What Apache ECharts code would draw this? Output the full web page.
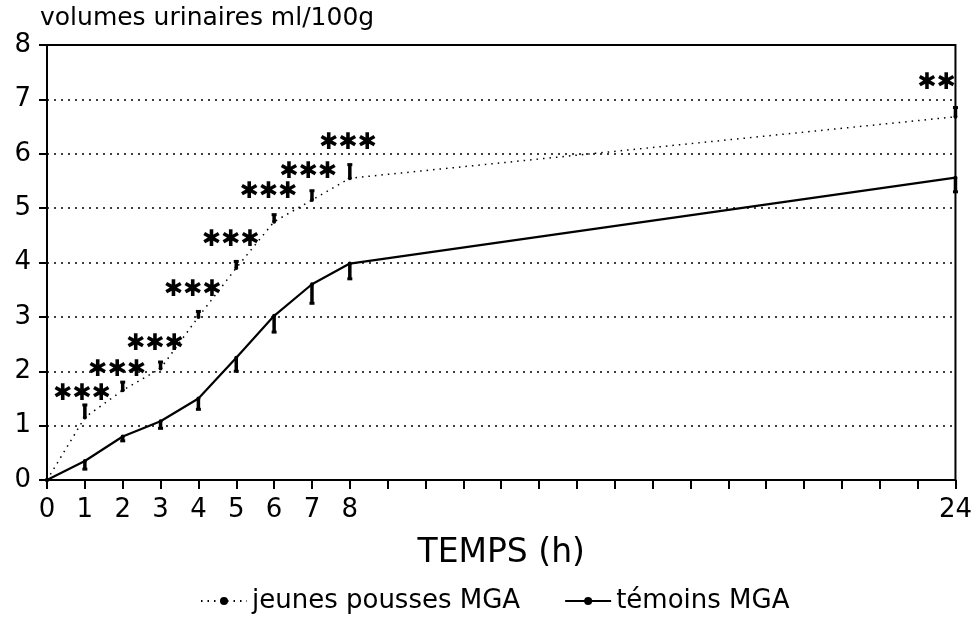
<!DOCTYPE html>
<html>
<head>
<meta charset="utf-8">
<script src="https://cdn.jsdelivr.net/npm/echarts@6/dist/echarts.min.js"></script>
<style>
  html, body { margin: 0; padding: 0; background: #fff; }
  #myCharts { width: 975px; height: 621px; }
</style>
</head>
<body>
<div id="myCharts"></div>
<script>
// heures de prélèvement
const hours = [0, 1, 2, 3, 4, 5, 6, 7, 8, 24];
// volumes moyens (ml/100g)
const jeunes = [0, 1.15, 1.65, 2.05, 3.0, 3.9, 4.75, 5.15, 5.55, 6.68];
const temoins = [0, 0.35, 0.8, 1.08, 1.5, 2.25, 3.02, 3.6, 3.98, 5.56];
// extrémités des barres d'erreur
const jeunesErr = [null, 1.38, 1.8, 2.17, 3.1, 4.02, 4.88, 5.32, 5.8, 6.85];
const temoinsErr = [null, 0.2, 0.72, 0.95, 1.3, 2.0, 2.72, 3.25, 3.7, 5.3];
// étoiles de significativité
const starX = [0.92, 1.85, 2.85, 3.85, 4.85, 5.85, 6.9, 7.95, 23.5];
const starY = [1.58, 2.02, 2.5, 3.5, 4.42, 5.3, 5.66, 6.2, 7.3];
const starText = ["✱✱✱", "✱✱✱", "✱✱✱", "✱✱✱", "✱✱✱", "✱✱✱", "✱✱✱", "✱✱✱", "✱✱"];
const xLabels = [0, 1, 2, 3, 4, 5, 6, 7, 8, 24];

const myCharts = echarts.init(document.getElementById("myCharts"));
const FONT = "DejaVu Sans";

function pairs(ys) {
  return hours.map((h, i) => [h, ys[i]]);
}
function errData(ys, ends) {
  const out = [];
  hours.forEach((h, i) => {
    if (ends[i] != null) out.push([h, ys[i], ends[i]]);
  });
  return out;
}
function errRender(params, api) {
  const p1 = api.coord([api.value(0), api.value(1)]);
  const p2 = api.coord([api.value(0), api.value(2)]);
  return {
    type: "group",
    children: [
      {
        type: "line",
        shape: { x1: p1[0], y1: p1[1], x2: p2[0], y2: p2[1] },
        style: { stroke: "#000", lineWidth: 3.5 },
      },
      {
        type: "line",
        shape: { x1: p2[0] - 2.5, y1: p2[1], x2: p2[0] + 2.5, y2: p2[1] },
        style: { stroke: "#000", lineWidth: 3 },
      },
    ],
  };
}

let option = {
  animation: false,
  backgroundColor: "#fff",
  textStyle: { fontFamily: FONT, color: "#000" },
  grid: {
    left: 47,
    right: 17,
    top: 45,
    bottom: 141,
    show: true,
    borderColor: "#000",
    borderWidth: 2,
    backgroundColor: "transparent",
  },
  legend: {
    bottom: 2,
    left: 195,
    itemWidth: 46,
    itemHeight: 10,
    itemGap: 44,
    textStyle: { fontFamily: FONT, fontSize: 26, color: "#000" },
    data: ["jeunes pousses MGA", "témoins MGA"],
  },
  xAxis: {
    type: "value",
    min: 0,
    max: 24,
    interval: 1,
    name: "TEMPS (h)",
    nameLocation: "middle",
    nameGap: 57,
    nameTextStyle: { fontFamily: FONT, fontSize: 33, color: "#000" },
    axisLine: { lineStyle: { color: "#000", width: 2 } },
    axisTick: { length: 9, lineStyle: { color: "#000", width: 2 } },
    axisLabel: {
      fontSize: 26,
      color: "#000",
      margin: 17,
      formatter: (v) => (xLabels.indexOf(v) >= 0 ? String(v) : ""),
    },
    splitLine: { show: false },
  },
  yAxis: {
    type: "value",
    min: 0,
    max: 8,
    interval: 1,
    name: "volumes urinaires ml/100g",
    nameLocation: "end",
    nameGap: 14,
    nameTextStyle: {
      fontFamily: FONT,
      fontSize: 25,
      color: "#000",
      align: "left",
      padding: [0, 0, 0, -7],
    },
    axisLine: { lineStyle: { color: "#000", width: 2 } },
    axisTick: { length: 8, lineStyle: { color: "#000", width: 2 } },
    axisLabel: { fontSize: 26, color: "#000", margin: 16 },
    splitLine: { lineStyle: { color: "#000", type: [2, 5], width: 1.5 } },
  },
  series: [
    {
      name: "jeunes pousses MGA",
      type: "line",
      data: pairs(jeunes),
      symbol: "circle",
      symbolSize: 4,
      itemStyle: { color: "#000" },
      lineStyle: { color: "#000", width: 1.5, type: [1.5, 5] },
      z: 3,
    },
    {
      name: "témoins MGA",
      type: "line",
      data: pairs(temoins),
      symbol: "circle",
      symbolSize: 4,
      itemStyle: { color: "#000" },
      lineStyle: { color: "#000", width: 2.2 },
      z: 3,
    },
    {
      type: "custom",
      data: errData(jeunes, jeunesErr),
      renderItem: errRender,
      z: 4,
    },
    {
      type: "custom",
      data: errData(temoins, temoinsErr),
      renderItem: errRender,
      z: 4,
    },
    {
      type: "scatter",
      symbolSize: 0,
      itemStyle: { color: "#000", opacity: 1 },
      data: starX.map((x, i) => ({ value: [x, starY[i]], label: { formatter: starText[i] } })),
      label: {
        show: true,
        position: "inside",
        fontFamily: FONT,
        fontSize: 23,
        fontWeight: "bold",
        color: "#000",
        textBorderWidth: 0,
      },
      z: 5,
    },
  ],
};

myCharts.setOption(option);
</script>
</body>
</html>
